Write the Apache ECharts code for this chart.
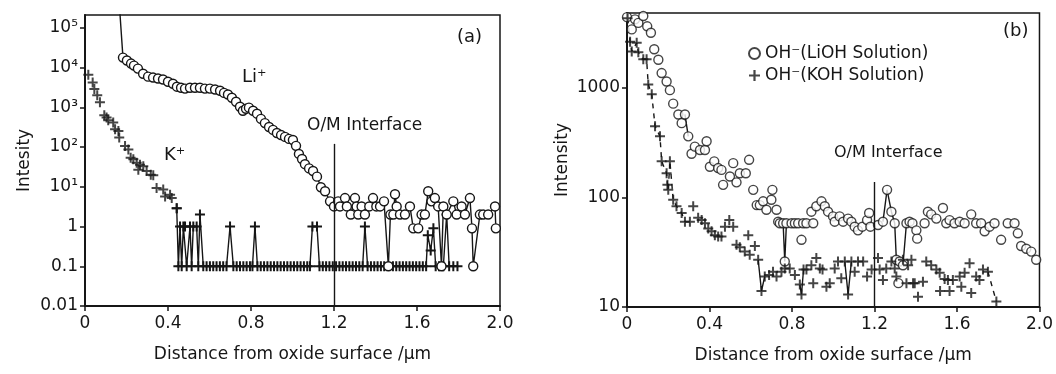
<!DOCTYPE html>
<html>
<head>
<meta charset="utf-8">
<script src="https://cdn.jsdelivr.net/npm/echarts@6/dist/echarts.min.js"></script>
<style>
  html, body { margin: 0; padding: 0; background: #fff; }
  #chart { width: 1056px; height: 374px; }
</style>
</head>
<body>
<div id="chart"></div>
<script>
// x ticks (µm)
const xTicks = [0, 0.4, 0.8, 1.2, 1.6, 2.0];
const interfaceX = 1.2;

// (a) Li+ profile  [distance, intensity]
const liData = [
  [0.160, 1e6], [0.183, 17800], [0.202, 15000], [0.222, 12600], [0.236, 11200], [0.255, 9400],
  [0.280, 7000], [0.304, 5900], [0.328, 5600], [0.352, 5300], [0.376, 5000], [0.400, 4400],
  [0.424, 3900], [0.443, 3300], [0.463, 3100], [0.482, 2950], [0.506, 3100], [0.530, 3100],
  [0.554, 3100], [0.578, 2950], [0.602, 2950], [0.627, 2800], [0.651, 2600], [0.670, 2300],
  [0.689, 2100], [0.708, 1740], [0.728, 1380], [0.747, 1030], [0.761, 820], [0.776, 920],
  [0.790, 980], [0.810, 820], [0.829, 690], [0.848, 510], [0.867, 400], [0.887, 320],
  [0.906, 270], [0.925, 225], [0.945, 200], [0.964, 180], [0.983, 160], [1.002, 150],
  [1.017, 107], [1.031, 67], [1.046, 50], [1.060, 37], [1.080, 29], [1.099, 25],
  [1.118, 18], [1.137, 9.7], [1.157, 7.7], [1.181, 4.3], [1.200, 3.2], [1.220, 4.3],
  [1.229, 3.2], [1.253, 5.2], [1.262, 3.2], [1.281, 2.0], [1.301, 5.2], [1.309, 3.2],
  [1.317, 2.0], [1.333, 3.2], [1.349, 2.0], [1.370, 3.2], [1.388, 5.2], [1.404, 3.2],
  [1.422, 3.2], [1.441, 4.3], [1.462, 0.1], [1.472, 2.0], [1.486, 2.0], [1.494, 6.5],
  [1.502, 3.2], [1.518, 2.0], [1.542, 2.0], [1.566, 3.2], [1.582, 0.9], [1.606, 0.9],
  [1.622, 2.0], [1.638, 2.0], [1.654, 7.7], [1.670, 4.3], [1.686, 5.2], [1.702, 3.2],
  [1.718, 0.1], [1.727, 3.2], [1.743, 2.0], [1.775, 4.3], [1.791, 2.0], [1.815, 3.2],
  [1.831, 2.0], [1.855, 5.2], [1.865, 0.9], [1.871, 0.1], [1.903, 2.0], [1.919, 2.0],
  [1.943, 2.0], [1.976, 3.2], [1.980, 0.9]
];

// (a) K+ profile, near surface (points only)
const kSurface = [
  [0.016, 6600], [0.037, 4200], [0.045, 2900], [0.059, 2000], [0.072, 1330], [0.093, 630],
  [0.104, 550], [0.112, 475], [0.136, 415], [0.145, 280], [0.161, 255], [0.165, 173],
  [0.193, 106], [0.209, 87], [0.220, 54], [0.233, 49], [0.249, 40], [0.257, 27],
  [0.265, 36], [0.281, 33], [0.297, 25], [0.317, 20], [0.329, 19.5], [0.345, 9.3],
  [0.377, 8.5], [0.386, 5.7], [0.410, 6.3], [0.418, 5.2], [0.442, 2.9]
];

// (a) K+ profile, deeper (joined)
const kDeep = [
  [0.442, 2.9], [0.450, 0.1], [0.458, 1], [0.466, 0.1], [0.474, 1], [0.482, 1], [0.490, 0.1],
  [0.506, 1], [0.514, 0.1], [0.522, 1], [0.538, 1], [0.546, 0.1], [0.554, 2], [0.570, 0.1],
  [0.586, 0.1], [0.602, 0.1], [0.618, 0.1], [0.634, 0.1], [0.650, 0.1], [0.666, 0.1],
  [0.682, 0.1], [0.699, 1], [0.715, 0.1], [0.731, 0.1], [0.747, 0.1], [0.763, 0.1],
  [0.779, 0.1], [0.795, 0.1], [0.807, 0.1], [0.819, 1], [0.831, 0.1], [0.847, 0.1],
  [0.863, 0.1], [0.879, 0.1], [0.895, 0.1], [0.911, 0.1], [0.927, 0.1], [0.943, 0.1],
  [0.959, 0.1], [0.975, 0.1], [0.991, 0.1], [1.007, 0.1], [1.023, 0.1], [1.039, 0.1],
  [1.055, 0.1], [1.071, 0.1], [1.084, 0.1], [1.096, 1], [1.118, 1], [1.130, 0.1],
  [1.146, 0.1], [1.162, 0.1], [1.178, 0.1], [1.194, 0.1], [1.210, 0.1], [1.226, 0.1],
  [1.242, 0.1], [1.258, 0.1], [1.274, 0.1], [1.290, 0.1], [1.306, 0.1], [1.322, 0.1],
  [1.338, 0.1], [1.349, 1], [1.362, 0.1], [1.378, 0.1], [1.394, 0.1], [1.410, 0.1],
  [1.426, 0.1], [1.442, 0.1], [1.484, 0.1], [1.500, 0.1], [1.516, 0.1], [1.532, 0.1],
  [1.548, 0.1], [1.564, 0.1], [1.580, 0.1], [1.596, 0.1], [1.612, 0.1], [1.628, 0.1],
  [1.644, 0.1], [1.652, 0.6], [1.666, 0.25], [1.679, 0.9], [1.690, 0.1], [1.706, 0.1],
  [1.727, 0.1], [1.743, 2], [1.755, 0.1], [1.775, 0.1], [1.795, 0.1]
];

// (b) OH- in LiOH solution
const liohData = [
  [0.000, 4400], [0.023, 3400], [0.039, 4200], [0.055, 3900], [0.079, 4500], [0.098, 3630],
  [0.116, 3170], [0.132, 2240], [0.152, 1800], [0.168, 1360], [0.192, 1140], [0.208, 950],
  [0.224, 715], [0.249, 570], [0.265, 475], [0.281, 570], [0.297, 360], [0.313, 250],
  [0.329, 290], [0.354, 270], [0.378, 270], [0.386, 325], [0.402, 190], [0.423, 213],
  [0.442, 185], [0.458, 178], [0.466, 130], [0.499, 155], [0.515, 205], [0.531, 137],
  [0.547, 166], [0.576, 166], [0.592, 220], [0.612, 117], [0.629, 85], [0.644, 85],
  [0.660, 92], [0.676, 77], [0.700, 95], [0.705, 117], [0.725, 77], [0.733, 60],
  [0.741, 58], [0.757, 58], [0.765, 26], [0.773, 58], [0.798, 58], [0.814, 58],
  [0.830, 58], [0.846, 41], [0.854, 58], [0.870, 58], [0.894, 74], [0.903, 58],
  [0.918, 83], [0.943, 92], [0.959, 83], [0.975, 74], [0.999, 67], [1.007, 60],
  [1.031, 67], [1.048, 60], [1.072, 64], [1.088, 60], [1.104, 54], [1.120, 50],
  [1.141, 54], [1.164, 62], [1.174, 72], [1.180, 54], [1.217, 56], [1.241, 60],
  [1.261, 117], [1.282, 74], [1.298, 58], [1.306, 27], [1.316, 16.5], [1.322, 26],
  [1.338, 24], [1.355, 58], [1.370, 60], [1.384, 58], [1.403, 50], [1.407, 42],
  [1.443, 58], [1.459, 74], [1.475, 70], [1.500, 64], [1.532, 80], [1.548, 58],
  [1.564, 62], [1.588, 58], [1.613, 60], [1.637, 58], [1.669, 70], [1.693, 58],
  [1.717, 58], [1.734, 49], [1.758, 54], [1.782, 58], [1.814, 41], [1.846, 58],
  [1.879, 58], [1.895, 47], [1.911, 36], [1.936, 34], [1.960, 32], [1.984, 27]
];

// (b) OH- in KOH solution
const kohData = [
  [0.003, 4300], [0.015, 2630], [0.023, 2140], [0.047, 2570], [0.055, 2100], [0.079, 1820],
  [0.095, 1820], [0.103, 1070], [0.120, 870], [0.136, 445], [0.160, 360], [0.168, 213],
  [0.192, 166], [0.196, 130], [0.200, 117], [0.208, 213], [0.224, 95], [0.240, 83],
  [0.265, 72], [0.281, 60], [0.305, 60], [0.321, 83], [0.345, 65], [0.362, 62],
  [0.378, 58], [0.394, 52], [0.410, 49], [0.426, 45], [0.442, 44], [0.458, 44],
  [0.475, 54], [0.496, 62], [0.515, 54], [0.531, 37], [0.547, 35], [0.571, 32],
  [0.588, 45], [0.595, 30], [0.620, 36], [0.636, 27], [0.652, 14], [0.668, 19],
  [0.689, 19.6], [0.708, 21], [0.725, 19], [0.749, 21], [0.765, 22.5], [0.789, 22.5],
  [0.814, 19.6], [0.838, 16], [0.846, 13], [0.856, 22], [0.870, 22], [0.894, 24],
  [0.903, 16.5], [0.918, 28], [0.935, 22.5], [0.948, 22], [0.967, 15.3], [0.983, 16.5],
  [1.007, 22.5], [1.023, 26], [1.039, 18.3], [1.056, 26], [1.072, 13], [1.088, 26],
  [1.104, 21], [1.120, 26], [1.145, 26], [1.164, 19], [1.186, 22], [1.217, 28],
  [1.225, 22], [1.241, 17.6], [1.257, 22.5], [1.282, 26], [1.298, 22.5], [1.306, 19],
  [1.338, 27], [1.355, 16.5], [1.363, 24], [1.379, 27], [1.387, 16.5], [1.395, 16.5],
  [1.411, 12.4], [1.435, 17], [1.451, 26], [1.475, 24], [1.500, 22], [1.516, 20.5],
  [1.518, 14], [1.540, 18], [1.556, 17.6], [1.564, 14], [1.580, 17.6], [1.613, 19],
  [1.621, 15.3], [1.637, 20.5], [1.661, 25], [1.669, 13.4], [1.693, 19], [1.709, 17.6],
  [1.726, 22], [1.750, 21], [1.791, 11.2]
];

// x-ranges where the hand-drawn plot joins the points
const liohJoinRanges = [[0.275, 0.300], [0.750, 0.780], [1.235, 1.285], [1.290, 1.310], [1.330, 1.360]];
const kohDashRanges = [[0.0, 0.30], [1.745, 1.80]];
const kohSolidRanges = [[0.630, 0.670], [0.835, 0.857], [1.050, 1.090]];

const INK = "#161616";
const FONT = "DejaVu Sans";
// "+" marker as a filled outline
const PLUS = "path://M4,0 h2 v4 h4 v2 h-4 v4 h-2 v-4 h-4 v-2 h4 z";
const SUP = { "1": "¹", "2": "²", "3": "³", "4": "⁴", "5": "⁵" };

function pick(data, ranges) {
  return data.map(p => ranges.some(r => p[0] >= r[0] && p[0] <= r[1]) ? p : [p[0], "-"]);
}

function xAxisOf(gridIndex) {
  return {
    type: "value", gridIndex, min: 0, max: 2, interval: 0.4,
    name: "Distance from oxide surface /\u03bcm", nameLocation: "middle", nameGap: 40,
    nameTextStyle: { color: INK, fontSize: 17, fontFamily: FONT },
    axisLine: { lineStyle: { color: INK, width: 2 } },
    axisTick: { length: 5, lineStyle: { color: INK, width: 1.5 } },
    axisLabel: {
      color: INK, fontSize: 17, fontFamily: FONT, margin: 9,
      formatter: v => (v === 0 ? "0" : v.toFixed(1))
    },
    splitLine: { show: false }
  };
}

const circleStyle = { color: "#fff", borderColor: INK, borderWidth: 1.4 };
const plusStyle = { color: INK, borderWidth: 0 };

const option = {
  animation: false,
  backgroundColor: "#fff",
  textStyle: { fontFamily: FONT, color: INK },
  grid: [
    { left: 85, top: 15, width: 415, height: 291, show: true, borderColor: INK, borderWidth: 1.5 },
    { left: 627, top: 13, width: 413, height: 294, show: true, borderColor: INK, borderWidth: 1.5 }
  ],
  xAxis: [xAxisOf(0), xAxisOf(1)],
  yAxis: [
    {
      type: "log", gridIndex: 0, min: 0.01, max: 2.1e5, logBase: 10,
      name: "Intesity", nameLocation: "middle", nameGap: 52,
      nameTextStyle: { color: INK, fontSize: 17, fontFamily: FONT },
      axisLine: { lineStyle: { color: INK, width: 2 } },
      axisTick: { length: 5, lineStyle: { color: INK, width: 1.5 } },
      axisLabel: {
        color: INK, fontSize: 17, fontFamily: FONT, margin: 7, showMaxLabel: false,
        formatter: v => {
          const e = Math.round(Math.log10(v));
          if (e <= 0) return ["0.01", "0.1", "1"][e + 2];
          return "10" + (SUP[e] || "");
        }
      },
      splitLine: { show: false }
    },
    {
      type: "log", gridIndex: 1, min: 10, max: 4800, logBase: 10,
      name: "Intensity", nameLocation: "middle", nameGap: 56,
      nameTextStyle: { color: INK, fontSize: 17, fontFamily: FONT },
      axisLine: { lineStyle: { color: INK, width: 2 } },
      axisTick: { length: 5, lineStyle: { color: INK, width: 1.5 } },
      axisLabel: {
        color: INK, fontSize: 17, fontFamily: FONT, margin: 7, showMaxLabel: false,
        formatter: v => String(Math.pow(10, Math.round(Math.log10(v))))
      },
      splitLine: { show: false }
    }
  ],
  legend: {
    data: ["OH\u207b(LiOH Solution)", "OH\u207b(KOH Solution)"],
    orient: "vertical", left: 743, top: 40, itemGap: 5, itemWidth: 11, itemHeight: 18,
    textStyle: { color: INK, fontSize: 17, fontFamily: FONT },
    selectedMode: false
  },
  series: [
    {
      name: "Li+", type: "line", xAxisIndex: 0, yAxisIndex: 0, data: liData,
      symbol: "circle", symbolSize: 9, showAllSymbol: true, clip: true,
      itemStyle: circleStyle, lineStyle: { color: INK, width: 1.4 },
      markLine: {
        silent: true, symbol: "none", label: { show: false },
        lineStyle: { color: INK, width: 1.4, type: "solid" },
        data: [[{ coord: [interfaceX, 120] }, { coord: [interfaceX, 0.01] }]]
      },
      z: 3
    },
    {
      name: "K+ surface", type: "scatter", xAxisIndex: 0, yAxisIndex: 0, data: kSurface,
      symbol: PLUS, symbolSize: 10, itemStyle: plusStyle, z: 4
    },
    {
      name: "K+", type: "line", xAxisIndex: 0, yAxisIndex: 0, data: kDeep,
      symbol: PLUS, symbolSize: 10, showAllSymbol: true, itemStyle: plusStyle,
      lineStyle: { color: INK, width: 1.4 }, z: 2
    },
    {
      name: "OH\u207b(LiOH Solution)", type: "scatter", xAxisIndex: 1, yAxisIndex: 1, data: liohData,
      symbol: "circle", symbolSize: 9, itemStyle: circleStyle, z: 4,
      markLine: {
        silent: true, symbol: "none", label: { show: false },
        lineStyle: { color: INK, width: 1.4, type: "solid" },
        data: [[{ coord: [interfaceX, 138] }, { coord: [interfaceX, 10] }]]
      }
    },
    {
      name: "lioh joins", type: "line", xAxisIndex: 1, yAxisIndex: 1, data: pick(liohData, liohJoinRanges),
      symbol: "none", connectNulls: false, lineStyle: { color: INK, width: 1.4 }, z: 2
    },
    {
      name: "OH\u207b(KOH Solution)", type: "scatter", xAxisIndex: 1, yAxisIndex: 1, data: kohData,
      symbol: PLUS, symbolSize: 10, itemStyle: plusStyle, z: 4
    },
    {
      name: "koh dashed", type: "line", xAxisIndex: 1, yAxisIndex: 1, data: pick(kohData, kohDashRanges),
      symbol: "none", connectNulls: false, lineStyle: { color: INK, width: 1.4, type: [5, 5] }, z: 2
    },
    {
      name: "koh joins", type: "line", xAxisIndex: 1, yAxisIndex: 1, data: pick(kohData, kohSolidRanges),
      symbol: "none", connectNulls: false, lineStyle: { color: INK, width: 1.4 }, z: 2
    }
  ],
  graphic: [
    { type: "text", left: 457, top: 28, style: { text: "(a)", font: "18px " + FONT, fill: INK } },
    { type: "text", left: 1003, top: 22, style: { text: "(b)", font: "18px " + FONT, fill: INK } },
    { type: "text", left: 242, top: 68, style: { text: "Li\u207a", font: "18px " + FONT, fill: INK } },
    { type: "text", left: 164, top: 146, style: { text: "K\u207a", font: "18px " + FONT, fill: INK } },
    { type: "text", left: 307, top: 117, style: { text: "O/M Interface", font: "17px " + FONT, fill: INK } },
    { type: "text", left: 834, top: 145, style: { text: "O/M Interface", font: "16px " + FONT, fill: INK } }
  ]
};

const chart = echarts.init(document.getElementById("chart"), null, { renderer: "canvas" });
chart.setOption(option);
</script>
</body>
</html>
